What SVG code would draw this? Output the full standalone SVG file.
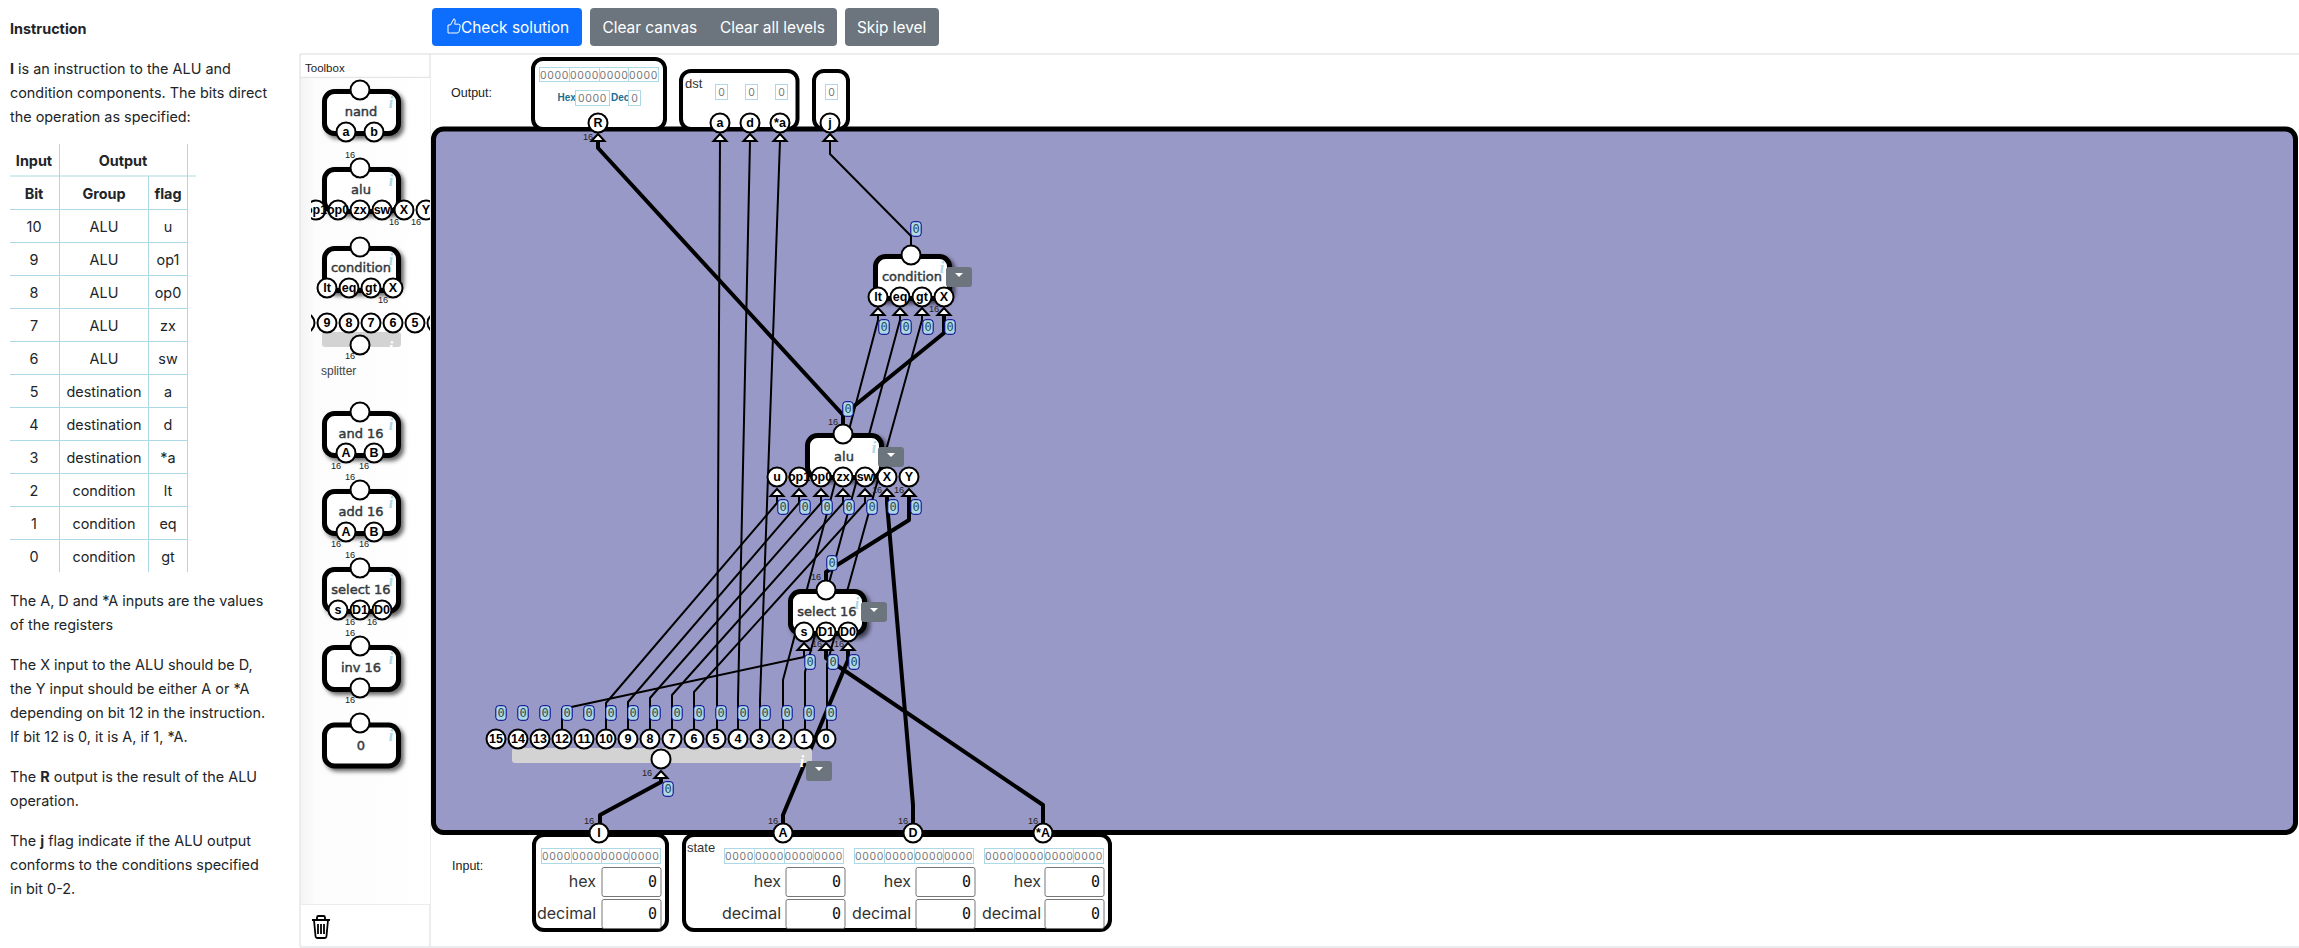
<svg xmlns="http://www.w3.org/2000/svg" xmlns:xlink="http://www.w3.org/1999/xlink" width="2299" height="948" viewBox="0 0 2299 948">
<style>
text{font-family:"Liberation Sans",Arial,sans-serif}
.doc{font-family:Inter,"Liberation Sans",sans-serif;font-size:14.4px;fill:#212529}
.b{font-weight:700}
.c{text-anchor:middle}
.btn{fill:#fff;font-family:Inter,"Liberation Sans",sans-serif;font-size:15.4px}
.tl{stroke:#add8e6;stroke-width:1;fill:none}
.blk{fill:#fff;stroke:#000;stroke-width:5;filter:url(#sh)}
.box{fill:#fff;stroke:#000;stroke-width:4}
.pin{fill:#fff;stroke:#000;stroke-width:2}
.pt{font-weight:700;font-size:12.5px;text-anchor:middle;fill:#000}
.nl{font-family:"DejaVu Sans",sans-serif;font-size:13px;text-anchor:middle;fill:#343a40;stroke:#343a40;stroke-width:.45}
.info{font-family:"Liberation Serif",serif;font-style:italic;font-weight:700;font-size:16px;text-anchor:middle;fill:#add8e6}
.s16{font-size:9.2px;text-anchor:middle;fill:#222}
.thin{fill:none;stroke:#000;stroke-width:2;stroke-linejoin:round}
.thick{fill:none;stroke:#000;stroke-width:4;stroke-linejoin:round}
.v{fill:#add8e6;stroke:#00008b;stroke-width:1}
.vt{font-family:"DejaVu Sans Mono",monospace;font-size:12px;text-anchor:middle;fill:#2d4a55}
.dd{fill:#6c757d}
.bits{fill:#fff;stroke:#add8e6;stroke-width:1}
.bt{font-family:Inter,"Liberation Sans",sans-serif;font-size:10.5px;letter-spacing:.6px;fill:#777;text-anchor:middle}
.sm{font-family:Inter,"Liberation Sans",sans-serif;font-size:10.5px;fill:#777;text-anchor:middle}
.hl{font-size:10px;font-weight:700;fill:#1a6f8f}
.il{font-family:Inter,"Liberation Sans",sans-serif;font-size:16px;fill:#333;text-anchor:end}
.in{fill:#fff;stroke:#777;stroke-width:1}
.iv{font-family:"DejaVu Sans Mono",monospace;font-size:15px;fill:#111;text-anchor:end}
.lb{font-size:12.5px;fill:#222}
</style>
<defs>
<filter id="sh" x="-20%" y="-20%" width="150%" height="150%"><feDropShadow dx="3" dy="3" stdDeviation="2" flood-color="#000" flood-opacity=".6"/></filter>
<clipPath id="tc"><rect x="311" y="78" width="119" height="826"/></clipPath>
<linearGradient id="tg" x1="0" x2="1" y1="0" y2="0"><stop offset="0" stop-color="#f4f4f4"/><stop offset=".12" stop-color="#fcfcfc"/><stop offset="1" stop-color="#fff"/></linearGradient>
<polygon id="tri" points="0,-7 -6.5,0 6.5,0" fill="#fff" stroke="#000" stroke-width="2"/>
<rect id="vb" x="-5.2" y="-7.3" width="10.4" height="14.6" rx="3" class="v"/>
<path id="caret" d="M-4 0h8l-4 4z" fill="#fff"/>
</defs>

<rect width="2299" height="948" fill="#fff"/>

<g id="instructions">
<text class="doc b" x="10" y="34">Instruction</text>
<text class="doc" x="10" y="74"><tspan class="b">I</tspan> is an instruction to the ALU and</text>
<text class="doc" x="10" y="98">condition components. The bits direct</text>
<text class="doc" x="10" y="122">the operation as specified:</text>
<path class="tl" d="M59.5 144V572M187.5 144V572M148.5 176V572M10 176H196M10 209.5H187M10 242.5H187M10 275.5H187M10 308.5H187M10 341.5H187M10 374.5H187M10 407.5H187M10 440.5H187M10 473.5H187M10 506.5H187M10 539.5H187"/>
<text class="doc b c" x="34" y="166">Input</text><text class="doc b c" x="123" y="166">Output</text>
<text class="doc b c" x="34" y="199">Bit</text><text class="doc b c" x="104" y="199">Group</text><text class="doc b c" x="168" y="199">flag</text>
<text class="doc c" x="34" y="232">10</text><text class="doc c" x="104" y="232">ALU</text><text class="doc c" x="168" y="232">u</text>
<text class="doc c" x="34" y="265">9</text><text class="doc c" x="104" y="265">ALU</text><text class="doc c" x="168" y="265">op1</text>
<text class="doc c" x="34" y="298">8</text><text class="doc c" x="104" y="298">ALU</text><text class="doc c" x="168" y="298">op0</text>
<text class="doc c" x="34" y="331">7</text><text class="doc c" x="104" y="331">ALU</text><text class="doc c" x="168" y="331">zx</text>
<text class="doc c" x="34" y="364">6</text><text class="doc c" x="104" y="364">ALU</text><text class="doc c" x="168" y="364">sw</text>
<text class="doc c" x="34" y="397">5</text><text class="doc c" x="104" y="397">destination</text><text class="doc c" x="168" y="397">a</text>
<text class="doc c" x="34" y="430">4</text><text class="doc c" x="104" y="430">destination</text><text class="doc c" x="168" y="430">d</text>
<text class="doc c" x="34" y="463">3</text><text class="doc c" x="104" y="463">destination</text><text class="doc c" x="168" y="463">*a</text>
<text class="doc c" x="34" y="496">2</text><text class="doc c" x="104" y="496">condition</text><text class="doc c" x="168" y="496">lt</text>
<text class="doc c" x="34" y="529">1</text><text class="doc c" x="104" y="529">condition</text><text class="doc c" x="168" y="529">eq</text>
<text class="doc c" x="34" y="562">0</text><text class="doc c" x="104" y="562">condition</text><text class="doc c" x="168" y="562">gt</text>
<text class="doc" x="10" y="606">The A, D and *A inputs are the values</text>
<text class="doc" x="10" y="630">of the registers</text>
<text class="doc" x="10" y="670">The X input to the ALU should be D,</text>
<text class="doc" x="10" y="694">the Y input should be either A or *A</text>
<text class="doc" x="10" y="718">depending on bit 12 in the instruction.</text>
<text class="doc" x="10" y="742">If bit 12 is 0, it is A, if 1, *A.</text>
<text class="doc" x="10" y="782">The <tspan class="b">R</tspan> output is the result of the ALU</text>
<text class="doc" x="10" y="806">operation.</text>
<text class="doc" x="10" y="846">The <tspan class="b">j</tspan> flag indicate if the ALU output</text>
<text class="doc" x="10" y="870">conforms to the conditions specified</text>
<text class="doc" x="10" y="894">in bit 0-2.</text>
</g>

<g id="toolbar">
<rect x="432" y="8" width="150" height="38" rx="4" fill="#0d6efd"/>
<path d="M450.5 33h6.500q1.800 0 2.200-1.800l1-5q.3-2-1.700-2h-3.800l.5-3.200q.1-2-1.400-2.200l-3.300 6.200h-2.500v8z" fill="none" stroke="#fff" stroke-width="1"/>
<text class="btn" x="461" y="33">Check solution</text>
<rect x="590" y="8" width="247" height="38" rx="4" class="dd"/>
<text class="btn" x="602.500" y="33">Clear canvas</text>
<text class="btn" x="720" y="33">Clear all levels</text>
<rect x="845" y="8" width="94" height="38" rx="4" class="dd"/>
<text class="btn" x="857" y="33">Skip level</text>
</g>

<g id="frame" fill="none" stroke="#e4e6e8" stroke-width="1.500">
<path d="M300 54H2299M430 54V947M300 54V947M300 947H2299M300 77.500H430M300 904H430"/>
</g>

<g id="toolbox">
<rect x="301" y="78" width="129" height="826" fill="url(#tg)"/>
<text x="305" y="72" font-size="11.500" fill="#222">Toolbox</text>
<g clip-path="url(#tc)">
<g id="tb-nand"><rect class="blk" x="324.500" y="91.500" width="74" height="42" rx="10"/><circle class="pin" cx="360" cy="90" r="9.500"/><text class="info" x="391" y="108">i</text><text class="nl" x="361" y="116">nand</text>
<circle class="pin" cx="346" cy="132" r="9.500"/><circle class="pin" cx="374" cy="132" r="9.500"/><text class="pt" x="346" y="136">a</text><text class="pt" x="374" y="136">b</text></g>
<g id="tb-alu"><rect class="blk" x="324.500" y="169.500" width="74" height="42" rx="10"/><circle class="pin" cx="360" cy="168" r="9.500"/><text class="info" x="391" y="186">i</text><text class="nl" x="361" y="194">alu</text><text class="s16" x="350" y="158">16</text>
<circle class="pin" cx="316" cy="210" r="9.500"/><circle class="pin" cx="338" cy="210" r="9.500"/><circle class="pin" cx="360" cy="210" r="9.500"/><circle class="pin" cx="382" cy="210" r="9.500"/><circle class="pin" cx="404" cy="210" r="9.500"/><circle class="pin" cx="426" cy="210" r="9.500"/>
<text class="pt" x="316" y="214">op1</text><text class="pt" x="338" y="214">op0</text><text class="pt" x="360" y="214">zx</text><text class="pt" x="382" y="214">sw</text><text class="pt" x="404" y="214">X</text><text class="pt" x="426" y="214">Y</text><text class="s16" x="394" y="225">16</text><text class="s16" x="416" y="225">16</text></g>
<g id="tb-condition"><rect class="blk" x="324.500" y="248.500" width="74" height="42" rx="10"/><circle class="pin" cx="360" cy="247" r="9.500"/><text class="info" x="391" y="265">i</text><text class="nl" x="361" y="272">condition</text>
<circle class="pin" cx="327" cy="288" r="9.500"/><circle class="pin" cx="349" cy="288" r="9.500"/><circle class="pin" cx="371" cy="288" r="9.500"/><circle class="pin" cx="393" cy="288" r="9.500"/>
<text class="pt" x="327" y="292">lt</text><text class="pt" x="349" y="292">eq</text><text class="pt" x="371" y="292">gt</text><text class="pt" x="393" y="292">X</text><text class="s16" x="383" y="303">16</text></g>
<g id="tb-splitter"><rect x="322" y="332" width="79" height="15" rx="3" fill="#d3d3d3"/><text class="info" x="391" y="353" style="fill:#fff">i</text>
<circle class="pin" cx="305" cy="323" r="9.500"/><circle class="pin" cx="327" cy="323" r="9.500"/><circle class="pin" cx="349" cy="323" r="9.500"/><circle class="pin" cx="371" cy="323" r="9.500"/><circle class="pin" cx="393" cy="323" r="9.500"/><circle class="pin" cx="415" cy="323" r="9.500"/><circle class="pin" cx="437" cy="323" r="9.500"/>
<text class="pt" x="327" y="327">9</text><text class="pt" x="349" y="327">8</text><text class="pt" x="371" y="327">7</text><text class="pt" x="393" y="327">6</text><text class="pt" x="415" y="327">5</text>
<circle class="pin" cx="360" cy="345" r="9.500"/><text class="s16" x="350" y="359">16</text><text x="321" y="375" font-size="12" fill="#444" font-family="DejaVu Sans">splitter</text></g>
<g id="tb-and"><rect class="blk" x="324.500" y="413.500" width="74" height="42" rx="10"/><circle class="pin" cx="360" cy="412" r="9.500"/><text class="info" x="391" y="430">i</text><text class="nl" x="361" y="438">and 16</text>
<circle class="pin" cx="346" cy="453" r="9.500"/><circle class="pin" cx="374" cy="453" r="9.500"/><text class="pt" x="346" y="457">A</text><text class="pt" x="374" y="457">B</text><text class="s16" x="336" y="469">16</text><text class="s16" x="364" y="469">16</text></g>
<g id="tb-add"><rect class="blk" x="324.500" y="491.500" width="74" height="42" rx="10"/><circle class="pin" cx="360" cy="490" r="9.500"/><text class="info" x="391" y="508">i</text><text class="nl" x="361" y="516">add 16</text><text class="s16" x="350" y="480">16</text>
<circle class="pin" cx="346" cy="532" r="9.500"/><circle class="pin" cx="374" cy="532" r="9.500"/><text class="pt" x="346" y="536">A</text><text class="pt" x="374" y="536">B</text><text class="s16" x="336" y="547">16</text><text class="s16" x="364" y="547">16</text></g>
<g id="tb-select"><rect class="blk" x="324.500" y="569.500" width="74" height="42" rx="10"/><circle class="pin" cx="360" cy="568" r="9.500"/><text class="info" x="391" y="586">i</text><text class="nl" x="361" y="594">select 16</text><text class="s16" x="350" y="558">16</text>
<circle class="pin" cx="338" cy="610" r="9.500"/><circle class="pin" cx="360" cy="610" r="9.500"/><circle class="pin" cx="382" cy="610" r="9.500"/><text class="pt" x="338" y="614">s</text><text class="pt" x="360" y="614">D1</text><text class="pt" x="382" y="614">D0</text><text class="s16" x="350" y="625">16</text><text class="s16" x="372" y="625">16</text></g>
<g id="tb-inv"><rect class="blk" x="324.500" y="647.500" width="74" height="42" rx="10"/><circle class="pin" cx="360" cy="646" r="9.500"/><text class="info" x="391" y="664">i</text><text class="nl" x="361" y="672">inv 16</text><text class="s16" x="350" y="636">16</text>
<circle class="pin" cx="360" cy="688" r="9.500"/><text class="s16" x="350" y="703">16</text></g>
<g id="tb-zero"><rect class="blk" x="324.500" y="725" width="74" height="41" rx="10"/><circle class="pin" cx="360" cy="723" r="9.500"/><text class="info" x="391" y="741">i</text><text class="nl" x="361" y="750">0</text></g>
</g>
<g id="trash" fill="none" stroke="#000" stroke-width="1.800"><path d="M312 920H330M317 920V917.500Q317 916 318.500 916H323.500Q325 916 325 917.500V920M314 920L315.500 936Q315.700 938 317.500 938H324.500Q326.300 938 326.500 936L328 920M318 924V934M321 924V934M324 924V934"/></g>
</g>

<text class="lb" x="451" y="97">Output:</text>
<text class="lb" x="452" y="870">Input:</text>

<rect id="canvas" x="433.500" y="129" width="1862" height="703.500" rx="10" fill="#9999c7" stroke="#000" stroke-width="5"/>

<g id="connectors">
<polyline class="thick" points="598,141 598,148 843,415 843,432"/>
<polyline class="thick" points="944,315 944,333 843,415"/>
<polyline class="thin" points="830,141 830,154 911,236 911,255"/>
<polyline class="thin" points="720,141 717,700 717,729"/>
<polyline class="thin" points="750,141 738,700 738,729"/>
<polyline class="thin" points="780,141 760,700 760,729"/>
<polyline class="thin" points="878,315 878,320 783,680 783,729"/>
<polyline class="thin" points="900,315 900,320 805,672 805,729"/>
<polyline class="thin" points="922,315 922,320 827,664 827,729"/>
<polyline class="thin" points="777,496 777,503 606,703 606,729"/>
<polyline class="thin" points="799,496 799,503 628,702 628,729"/>
<polyline class="thin" points="821,496 821,503 650,698 650,729"/>
<polyline class="thin" points="843,496 843,503 672,695 672,729"/>
<polyline class="thin" points="865,496 865,503 694,692 694,729"/>
<polyline class="thin" points="804,650 804,657 562,709 562,729"/>
<polyline class="thick" points="887,496 887,503 913,805 913,833"/>
<polyline class="thick" points="909,496 909,520 826,572 826,590"/>
<polyline class="thick" points="848,650 848,660 783,815 783,833"/>
<polyline class="thick" points="826,650 826,658 1043,805 1043,833"/>
<polyline class="thick" points="661,778 661,782 600,815 600,833"/>
</g>

<g id="out-R"><rect class="box" x="533" y="59" width="132" height="70" rx="10"/>
<rect class="bits" x="539.500" y="67.500" width="119" height="14"/><path class="tl" d="M569.500 67.500v14M599.500 67.500v14M628.500 67.500v14"/>
<text class="bt" x="554.500" y="78.500">0000</text><text class="bt" x="584.500" y="78.500">0000</text><text class="bt" x="614" y="78.500">0000</text><text class="bt" x="643.500" y="78.500">0000</text>
<text class="hl" x="557.500" y="101">Hex</text><rect class="bits" x="575.500" y="90.500" width="34" height="15"/><text class="bt" x="592.500" y="102">0000</text>
<text class="hl" x="611" y="101">Dec</text><rect class="bits" x="628.500" y="90.500" width="12" height="15"/><text class="sm" x="634.500" y="102">0</text>
<circle class="pin" cx="598" cy="123" r="9.500"/><text class="pt" x="598" y="127">R</text><use xlink:href="#tri" x="598" y="141"/><text class="s16" x="588" y="140">16</text></g>

<g id="out-dst"><rect class="box" x="681" y="71" width="116.500" height="58" rx="10"/>
<text x="685" y="88" font-size="13" fill="#333">dst</text>
<rect class="bits" x="715.500" y="84.500" width="12" height="15"/><text class="sm" x="721.500" y="96">0</text>
<rect class="bits" x="745.500" y="84.500" width="12" height="15"/><text class="sm" x="751.500" y="96">0</text>
<rect class="bits" x="775.500" y="84.500" width="12" height="15"/><text class="sm" x="781.500" y="96">0</text>
<circle class="pin" cx="720" cy="123" r="9.500"/><text class="pt" x="720" y="127">a</text><use xlink:href="#tri" x="720" y="141"/>
<circle class="pin" cx="750" cy="123" r="9.500"/><text class="pt" x="750" y="127">d</text><use xlink:href="#tri" x="750" y="141"/>
<circle class="pin" cx="780" cy="123" r="9.500"/><text class="pt" x="780" y="127">*a</text><use xlink:href="#tri" x="780" y="141"/></g>

<g id="out-j"><rect class="box" x="814" y="71" width="34" height="58" rx="10"/>
<rect class="bits" x="825.500" y="84.500" width="12" height="15"/><text class="sm" x="831.500" y="96">0</text>
<circle class="pin" cx="830" cy="123" r="9.500"/><text class="pt" x="830" y="127">j</text><use xlink:href="#tri" x="830" y="141"/></g>

<g id="node-condition"><rect class="blk" x="875.500" y="256.500" width="74" height="42" rx="10"/>
<circle class="pin" cx="911" cy="255" r="9.500"/><text class="info" x="942" y="273">i</text><text class="nl" x="912" y="281">condition</text>
<rect x="946" y="267" width="26" height="20" rx="3" class="dd"/><use xlink:href="#caret" x="959" y="273"/>
<circle class="pin" cx="878" cy="297" r="9.500"/><circle class="pin" cx="900" cy="297" r="9.500"/><circle class="pin" cx="922" cy="297" r="9.500"/><circle class="pin" cx="944" cy="297" r="9.500"/>
<text class="pt" x="878" y="301">lt</text><text class="pt" x="900" y="301">eq</text><text class="pt" x="922" y="301">gt</text><text class="pt" x="944" y="301">X</text>
<use xlink:href="#tri" x="878" y="315"/><use xlink:href="#tri" x="900" y="315"/><use xlink:href="#tri" x="922" y="315"/><use xlink:href="#tri" x="944" y="315"/><text class="s16" x="934" y="312">16</text></g>

<g id="node-alu"><rect class="blk" x="807.500" y="435.500" width="74" height="42" rx="10"/>
<circle class="pin" cx="843" cy="434" r="9.500"/><text class="info" x="874" y="453">i</text><text class="nl" x="844" y="461">alu</text><text class="s16" x="833" y="425">16</text>
<rect x="878" y="447" width="26" height="20" rx="3" class="dd"/><use xlink:href="#caret" x="891" y="453"/>
<circle class="pin" cx="777" cy="477" r="9.500"/><circle class="pin" cx="799" cy="477" r="9.500"/><circle class="pin" cx="821" cy="477" r="9.500"/><circle class="pin" cx="843" cy="477" r="9.500"/><circle class="pin" cx="865" cy="477" r="9.500"/><circle class="pin" cx="887" cy="477" r="9.500"/><circle class="pin" cx="909" cy="477" r="9.500"/>
<text class="pt" x="777" y="481">u</text><text class="pt" x="799" y="481">op1</text><text class="pt" x="821" y="481">op0</text><text class="pt" x="843" y="481">zx</text><text class="pt" x="865" y="481">sw</text><text class="pt" x="887" y="481">X</text><text class="pt" x="909" y="481">Y</text>
<use xlink:href="#tri" x="777" y="496"/><use xlink:href="#tri" x="799" y="496"/><use xlink:href="#tri" x="821" y="496"/><use xlink:href="#tri" x="843" y="496"/><use xlink:href="#tri" x="865" y="496"/><use xlink:href="#tri" x="887" y="496"/><use xlink:href="#tri" x="909" y="496"/>
<text class="s16" x="877" y="493">16</text><text class="s16" x="899" y="493">16</text></g>

<g id="node-select"><rect class="blk" x="790.500" y="591.500" width="74" height="42" rx="10"/>
<circle class="pin" cx="826" cy="590" r="9.500"/><text class="info" x="857" y="609">i</text><text class="nl" x="827" y="616">select 16</text><text class="s16" x="816" y="580">16</text>
<rect x="861" y="602" width="26" height="20" rx="3" class="dd"/><use xlink:href="#caret" x="874" y="608"/>
<circle class="pin" cx="804" cy="632" r="9.500"/><circle class="pin" cx="826" cy="632" r="9.500"/><circle class="pin" cx="848" cy="632" r="9.500"/>
<text class="pt" x="804" y="636">s</text><text class="pt" x="826" y="636">D1</text><text class="pt" x="848" y="636">D0</text>
<use xlink:href="#tri" x="804" y="650"/><use xlink:href="#tri" x="826" y="650"/><use xlink:href="#tri" x="848" y="650"/>
<text class="s16" x="817" y="647">16</text><text class="s16" x="839" y="647">16</text></g>

<g id="node-splitter"><rect x="512" y="748" width="300" height="15" rx="3" fill="#d3d3d3"/>
<text class="info" x="802" y="767" style="fill:#fff">i</text>
<circle class="pin" cx="496" cy="739" r="9.500"/><circle class="pin" cx="518" cy="739" r="9.500"/><circle class="pin" cx="540" cy="739" r="9.500"/><circle class="pin" cx="562" cy="739" r="9.500"/><circle class="pin" cx="584" cy="739" r="9.500"/><circle class="pin" cx="606" cy="739" r="9.500"/><circle class="pin" cx="628" cy="739" r="9.500"/><circle class="pin" cx="650" cy="739" r="9.500"/><circle class="pin" cx="672" cy="739" r="9.500"/><circle class="pin" cx="694" cy="739" r="9.500"/><circle class="pin" cx="716" cy="739" r="9.500"/><circle class="pin" cx="738" cy="739" r="9.500"/><circle class="pin" cx="760" cy="739" r="9.500"/><circle class="pin" cx="782" cy="739" r="9.500"/><circle class="pin" cx="804" cy="739" r="9.500"/><circle class="pin" cx="826" cy="739" r="9.500"/>
<text class="pt" x="496" y="743">15</text><text class="pt" x="518" y="743">14</text><text class="pt" x="540" y="743">13</text><text class="pt" x="562" y="743">12</text><text class="pt" x="584" y="743">11</text><text class="pt" x="606" y="743">10</text><text class="pt" x="628" y="743">9</text><text class="pt" x="650" y="743">8</text><text class="pt" x="672" y="743">7</text><text class="pt" x="694" y="743">6</text><text class="pt" x="716" y="743">5</text><text class="pt" x="738" y="743">4</text><text class="pt" x="760" y="743">3</text><text class="pt" x="782" y="743">2</text><text class="pt" x="804" y="743">1</text><text class="pt" x="826" y="743">0</text>
<circle class="pin" cx="661" cy="759" r="9.500"/><use xlink:href="#tri" x="661" y="778"/><text class="s16" x="647" y="776">16</text>
<rect x="806" y="761" width="26" height="20" rx="3" class="dd"/><use xlink:href="#caret" x="819" y="767"/></g>

<g id="wire-values">
<use xlink:href="#vb" x="501" y="713"/><use xlink:href="#vb" x="523" y="713"/><use xlink:href="#vb" x="545" y="713"/><use xlink:href="#vb" x="567" y="713"/><use xlink:href="#vb" x="589" y="713"/><use xlink:href="#vb" x="611" y="713"/><use xlink:href="#vb" x="633" y="713"/><use xlink:href="#vb" x="655" y="713"/><use xlink:href="#vb" x="677" y="713"/><use xlink:href="#vb" x="699" y="713"/><use xlink:href="#vb" x="721" y="713"/><use xlink:href="#vb" x="743" y="713"/><use xlink:href="#vb" x="765" y="713"/><use xlink:href="#vb" x="787" y="713"/><use xlink:href="#vb" x="809" y="713"/><use xlink:href="#vb" x="831" y="713"/>
<use xlink:href="#vb" x="668" y="789"/><use xlink:href="#vb" x="848" y="409"/><use xlink:href="#vb" x="916" y="229"/><use xlink:href="#vb" x="832" y="563"/>
<use xlink:href="#vb" x="783" y="507"/><use xlink:href="#vb" x="805" y="507"/><use xlink:href="#vb" x="827" y="507"/><use xlink:href="#vb" x="849" y="507"/><use xlink:href="#vb" x="872" y="507"/><use xlink:href="#vb" x="893" y="507"/><use xlink:href="#vb" x="916" y="507"/>
<use xlink:href="#vb" x="884" y="327"/><use xlink:href="#vb" x="906" y="327"/><use xlink:href="#vb" x="928" y="327"/><use xlink:href="#vb" x="950" y="327"/>
<use xlink:href="#vb" x="810" y="662"/><use xlink:href="#vb" x="833" y="662"/><use xlink:href="#vb" x="854" y="662"/>
<text class="vt" x="501" y="717">0</text><text class="vt" x="523" y="717">0</text><text class="vt" x="545" y="717">0</text><text class="vt" x="567" y="717">0</text><text class="vt" x="589" y="717">0</text><text class="vt" x="611" y="717">0</text><text class="vt" x="633" y="717">0</text><text class="vt" x="655" y="717">0</text><text class="vt" x="677" y="717">0</text><text class="vt" x="699" y="717">0</text><text class="vt" x="721" y="717">0</text><text class="vt" x="743" y="717">0</text><text class="vt" x="765" y="717">0</text><text class="vt" x="787" y="717">0</text><text class="vt" x="809" y="717">0</text><text class="vt" x="831" y="717">0</text>
<text class="vt" x="668" y="793">0</text><text class="vt" x="848" y="413">0</text><text class="vt" x="916" y="233">0</text><text class="vt" x="832" y="567">0</text>
<text class="vt" x="783" y="511">0</text><text class="vt" x="805" y="511">0</text><text class="vt" x="827" y="511">0</text><text class="vt" x="849" y="511">0</text><text class="vt" x="872" y="511">0</text><text class="vt" x="893" y="511">0</text><text class="vt" x="916" y="511">0</text>
<text class="vt" x="884" y="331">0</text><text class="vt" x="906" y="331">0</text><text class="vt" x="928" y="331">0</text><text class="vt" x="950" y="331">0</text>
<text class="vt" x="810" y="666">0</text><text class="vt" x="833" y="666">0</text><text class="vt" x="854" y="666">0</text>
</g>

<g id="in-I"><rect class="box" x="534" y="835" width="133" height="95" rx="10"/>
<rect class="bits" x="541.500" y="848.500" width="119" height="15"/><path class="tl" d="M571.500 848.500v15M601.500 848.500v15M629.500 848.500v15"/>
<text class="bt" x="556.500" y="860">0000</text><text class="bt" x="586.500" y="860">0000</text><text class="bt" x="615.500" y="860">0000</text><text class="bt" x="645" y="860">0000</text>
<text class="il" x="596" y="887">hex</text><rect class="in" x="602" y="867.500" width="59" height="29" rx="2"/><text class="iv" x="657" y="887">0</text>
<text class="il" x="596" y="919">decimal</text><rect class="in" x="602" y="899.500" width="59" height="29" rx="2"/><text class="iv" x="657" y="919">0</text>
<circle class="pin" cx="599" cy="833" r="9.500"/><text class="pt" x="599" y="837">I</text><text class="s16" x="589" y="824">16</text></g>

<g id="in-state"><rect class="box" x="684" y="835" width="426" height="95" rx="10"/>
<text x="687" y="852" font-size="13" fill="#333">state</text>
<rect class="bits" x="724.500" y="848.500" width="119" height="15"/><path class="tl" d="M754.500 848.500v15M784.500 848.500v15M813.500 848.500v15"/>
<text class="bt" x="739.500" y="860">0000</text><text class="bt" x="769.500" y="860">0000</text><text class="bt" x="799" y="860">0000</text><text class="bt" x="828.500" y="860">0000</text>
<text class="il" x="781" y="887">hex</text><rect class="in" x="786" y="867.500" width="59" height="29" rx="2"/><text class="iv" x="841" y="887">0</text>
<text class="il" x="781" y="919">decimal</text><rect class="in" x="786" y="899.500" width="59" height="29" rx="2"/><text class="iv" x="841" y="919">0</text>
<rect class="bits" x="854.500" y="848.500" width="119" height="15"/><path class="tl" d="M884.500 848.500v15M914.500 848.500v15M943.500 848.500v15"/>
<text class="bt" x="869.500" y="860">0000</text><text class="bt" x="899.500" y="860">0000</text><text class="bt" x="929" y="860">0000</text><text class="bt" x="958.500" y="860">0000</text>
<text class="il" x="911" y="887">hex</text><rect class="in" x="916" y="867.500" width="59" height="29" rx="2"/><text class="iv" x="971" y="887">0</text>
<text class="il" x="911" y="919">decimal</text><rect class="in" x="916" y="899.500" width="59" height="29" rx="2"/><text class="iv" x="971" y="919">0</text>
<rect class="bits" x="984.500" y="848.500" width="119" height="15"/><path class="tl" d="M1014.500 848.500v15M1044.500 848.500v15M1073.500 848.500v15"/>
<text class="bt" x="999.500" y="860">0000</text><text class="bt" x="1029.500" y="860">0000</text><text class="bt" x="1059" y="860">0000</text><text class="bt" x="1088.500" y="860">0000</text>
<text class="il" x="1041" y="887">hex</text><rect class="in" x="1045" y="867.500" width="59" height="29" rx="2"/><text class="iv" x="1100" y="887">0</text>
<text class="il" x="1041" y="919">decimal</text><rect class="in" x="1045" y="899.500" width="59" height="29" rx="2"/><text class="iv" x="1100" y="919">0</text>
<circle class="pin" cx="783" cy="833" r="9.500"/><text class="pt" x="783" y="837">A</text><text class="s16" x="773" y="824">16</text>
<circle class="pin" cx="913" cy="833" r="9.500"/><text class="pt" x="913" y="837">D</text><text class="s16" x="903" y="824">16</text>
<circle class="pin" cx="1043" cy="833" r="9.500"/><text class="pt" x="1043" y="837">*A</text><text class="s16" x="1033" y="824">16</text></g>
</svg>
